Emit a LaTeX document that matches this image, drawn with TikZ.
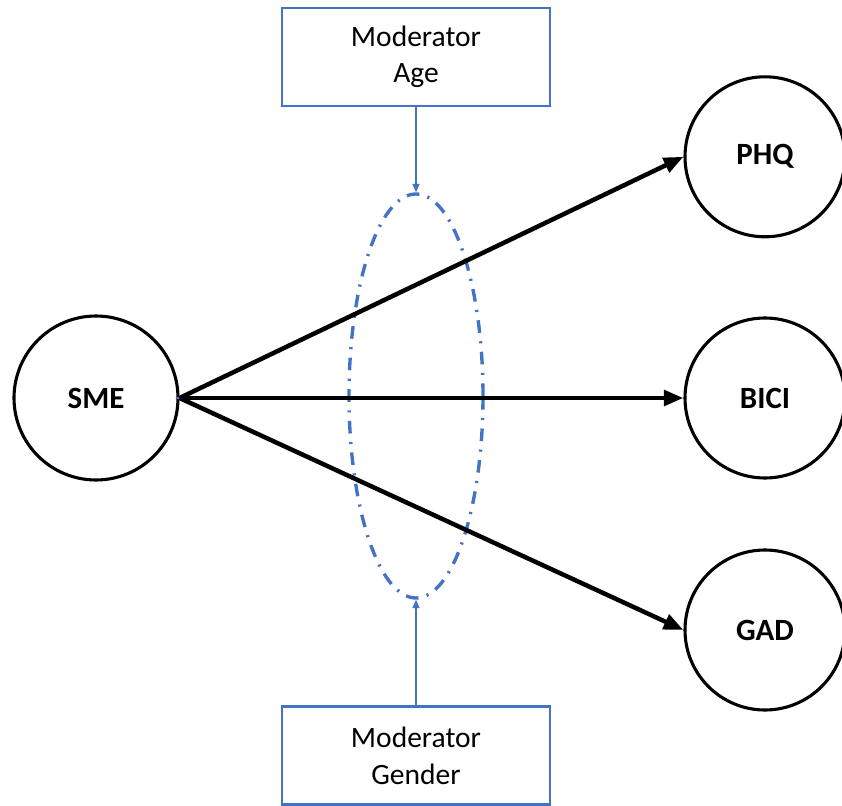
\documentclass[tikz,border=0pt]{standalone}
\usepackage{fontspec}
\setmainfont{Carlito}
\usepackage{tikz}
\usetikzlibrary{arrows.meta,shapes.geometric,positioning}
\definecolor{modblue}{RGB}{68,114,196}

\begin{document}
\begin{tikzpicture}[-{Triangle[length=14pt,width=11pt]},line width=3.2pt,node distance=16.725cm]
  \tikzstyle{construct}=[circle,draw=black,line width=2.2pt,minimum size=4cm,inner sep=0pt,font=\fontsize{22}{26}\selectfont\bfseries]
  \tikzstyle{moderator}=[rectangle,draw=modblue,line width=1.8pt,minimum width=6.7cm,minimum height=2.45cm,align=center,font=\fontsize{21}{26}\selectfont]
  \tikzstyle{modarrow}=[draw=modblue,line width=0.8pt,-{Triangle[length=6pt,width=5pt]}]
  \useasboundingbox (-2.4,-10.175) rectangle (18.65,9.95);

  \node[construct, minimum size=4.1cm] (SME)                                {SME};
  \node[construct]          (BICI) [right of=SME]                    {BICI};
  \node[construct]          (PHQ)  [above of=BICI, node distance=6.03cm] {PHQ};
  \node[construct]          (GAD)  [below of=BICI, node distance=5.8cm]  {GAD};

  \node[ellipse, draw=modblue, line width=2.4pt, dash pattern=on 9pt off 6pt on 1.5pt off 6pt,
        minimum width=3.35cm, minimum height=10.1cm, inner sep=0pt]
                            (ell)  [right of=SME, node distance=8cm, yshift=0.05cm] {};
  \node[moderator]          (age)  [above of=ell, node distance=8.48cm]  {Moderator\\Age};
  \node[moderator]          (gender) [below of=ell, node distance=8.99cm] {Moderator\\Gender};

  \coordinate (tip) at ([xshift=-3pt]SME.east);
  \coordinate (tail) at ([xshift=3pt]SME.east);
  \draw[modarrow] (tail) -- (tip);

  \draw[modarrow] (age) -- (ell);
  \draw[modarrow] (gender) -- (ell);

  \path (SME.east) edge (PHQ.west)
                   edge (BICI.west)
                   edge (GAD.west);
\end{tikzpicture}
\end{document}
